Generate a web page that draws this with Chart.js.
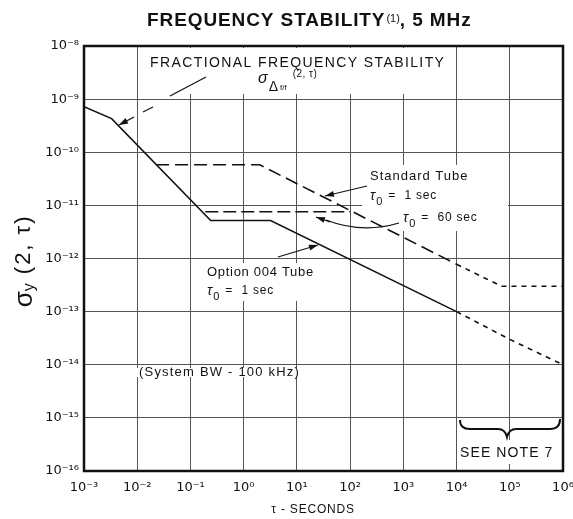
<!DOCTYPE html>
<html>
<head>
<meta charset="utf-8">
<script src="https://cdn.jsdelivr.net/npm/chart.js@4.4.0/dist/chart.umd.min.js"></script>
<style>
html, body { margin: 0; padding: 0; background: #fff; }
</style>
</head>
<body>
<canvas id="stabilityChart" width="573" height="519"></canvas>
<script>
// decades shown on each axis
const xExponents = [-3, -2, -1, 0, 1, 2, 3, 4, 5, 6];
const yExponents = [-16, -15, -14, -13, -12, -11, -10, -9, -8];

// Option 004 tube, tau0 = 1 sec (solid, dashed past 1e4 s)
const optionTau   = [1e-3, 3.3e-3, 0.24, 3.2, 1e4, 1e5, 1e6];
const optionSigma = [7.2e-10, 4.3e-10, 5.2e-12, 5.2e-12, 1e-13, 3e-14, 1e-14];

// Standard tube, tau0 = 1 sec
const standardTau   = [0.0226, 2, 1e4, 7e4, 1e6];
const standardSigma = [5.8e-11, 5.8e-11, 7.8e-13, 3e-13, 3e-13];

// Standard tube, tau0 = 60 sec
const sixtyTau   = [0.19, 100];
const sixtySigma = [7.6e-12, 7.6e-12];

const FONT = '"Liberation Sans", Arial, "DejaVu Sans", sans-serif';
const TICK_FONT = '"DejaVu Sans", sans-serif';
const SUP = { '-': '\u207B', '0': '\u2070', '1': '\u00B9', '2': '\u00B2', '3': '\u00B3',
              '4': '\u2074', '5': '\u2075', '6': '\u2076', '7': '\u2077', '8': '\u2078', '9': '\u2079' };

function tenTo(value) {
    const e = String(Math.round(Math.log10(value)));
    return '10' + e.split('').map(c => SUP[c]).join('');
}

function toPoints(xs, ys) {
    return xs.map((x, i) => ({ x: x, y: ys[i] }));
}

// white patches behind the label blocks (grid is broken there in the original)
const labelBoxes = [
    [145, 48, 308, 46],
    [362, 165, 146, 42],
    [376, 207, 130, 24],
    [197, 263, 140, 38],
    [128, 368, 191, 9],
    [460, 440, 100, 24]
];

function txt(ctx, s, x, y, size, style, ls) {
    ctx.font = (style || '') + ' ' + size + 'px ' + FONT;
    ctx.letterSpacing = (ls || 0) + 'px';
    ctx.fillText(s, x, y);
    return x + ctx.measureText(s).width;
}

function arrow(ctx, x1, y1, x2, y2) {
    const a = Math.atan2(y2 - y1, x2 - x1);
    ctx.beginPath();
    ctx.moveTo(x1, y1);
    ctx.lineTo(x2, y2);
    ctx.stroke();
    ctx.beginPath();
    ctx.moveTo(x2, y2);
    ctx.lineTo(x2 - 9 * Math.cos(a) + 3 * Math.sin(a), y2 - 9 * Math.sin(a) - 3 * Math.cos(a));
    ctx.lineTo(x2 - 9 * Math.cos(a) - 3 * Math.sin(a), y2 - 9 * Math.sin(a) + 3 * Math.cos(a));
    ctx.closePath();
    ctx.fill();
}

function tauZero(ctx, x, y, rest) {
    let nx = txt(ctx, '\u03C4', x, y, 14, 'italic');
    nx = txt(ctx, '0', nx + 1, y + 6, 11);
    txt(ctx, rest, nx + 6, y, 12, '', 0.8);
}

const decorPlugin = {
    id: 'decor',
    beforeDatasetsDraw(chart) {
        const ctx = chart.ctx;
        ctx.save();
        ctx.fillStyle = '#fff';
        labelBoxes.forEach(b => ctx.fillRect(b[0], b[1], b[2], b[3]));
        ctx.restore();
    },
    afterDraw(chart) {
        const ctx = chart.ctx;
        const area = chart.chartArea;
        ctx.save();
        ctx.fillStyle = '#111';
        ctx.strokeStyle = '#111';
        ctx.textBaseline = 'middle';
        ctx.textAlign = 'left';

        // frame
        ctx.lineWidth = 2.5;
        ctx.strokeRect(area.left, area.top, area.right - area.left, area.bottom - area.top);

        // title
        let x = txt(ctx, 'FREQUENCY STABILITY', 147, 21, 19, 'bold', 0.9);
        x = txt(ctx, '(1)', x + 1, 19, 11, '', 0);
        txt(ctx, ', 5 MHz', x, 21, 19, 'bold', 0.9);

        // top-left note
        txt(ctx, 'FRACTIONAL FREQUENCY STABILITY', 150, 63, 14, '', 1.4);
        x = txt(ctx, '\u03C3', 258, 79, 16, 'italic');
        x = txt(ctx, '\u0394', x + 1, 87, 14);
        x = txt(ctx, 'f/f', x + 2, 88, 8);
        txt(ctx, '(2, \u03C4)', x + 6, 74, 10, '', 0.5);
        ctx.lineWidth = 1.2;
        ctx.beginPath();
        ctx.moveTo(206, 77); ctx.lineTo(170, 96);
        ctx.moveTo(153, 107); ctx.lineTo(143, 112);
        ctx.stroke();
        arrow(ctx, 134, 117, 119, 125);

        // standard tube notes
        txt(ctx, 'Standard Tube', 370, 176, 13, '', 1);
        tauZero(ctx, 370, 196, '=  1 sec');
        arrow(ctx, 367, 186, 325, 196);
        tauZero(ctx, 403, 218, '=  60 sec');
        ctx.beginPath();
        ctx.moveTo(399, 223);
        ctx.quadraticCurveTo(362, 234, 326, 220);
        ctx.stroke();
        arrow(ctx, 330, 222, 316, 217);

        // option 004 notes
        txt(ctx, 'Option 004 Tube', 207, 272, 13, '', 0.7);
        tauZero(ctx, 207, 291, '=  1 sec');
        arrow(ctx, 278, 257, 318, 245);

        txt(ctx, '(System BW - 100 kHz)', 139, 372, 13, '', 1.2);

        // brace and note
        ctx.lineWidth = 2;
        ctx.beginPath();
        ctx.moveTo(460, 420);
        ctx.quadraticCurveTo(460, 429, 470, 429);
        ctx.lineTo(498, 429);
        ctx.quadraticCurveTo(505, 429, 507, 437);
        ctx.quadraticCurveTo(509, 429, 516, 429);
        ctx.lineTo(550, 429);
        ctx.quadraticCurveTo(560, 429, 560, 419);
        ctx.stroke();
        txt(ctx, 'SEE NOTE 7', 460, 453, 14, '', 1.1);

        // axis titles
        ctx.textAlign = 'center';
        txt(ctx, '\u03C4 - SECONDS', 313, 510, 12, '', 0.8);

        ctx.translate(25, 261);
        ctx.rotate(-Math.PI / 2);
        ctx.textAlign = 'left';
        ctx.font = 'italic 26px ' + FONT;
        ctx.letterSpacing = '0px';
        const w1 = ctx.measureText('\u03C3').width;
        ctx.font = '16px ' + FONT;
        const w2 = ctx.measureText('y').width;
        ctx.font = '22px ' + FONT;
        ctx.letterSpacing = '2px';
        const w3 = ctx.measureText('(2, \u03C4)').width;
        let sx = -(w1 + w2 + 9 + w3) / 2;
        sx = txt(ctx, '\u03C3', sx, 0, 26, '');
        sx = txt(ctx, 'y', sx, 5, 16, '');
        txt(ctx, '(2, \u03C4)', sx + 9, -1, 22, '', 2);
        ctx.restore();
    }
};

const lineStyle = {
    borderColor: '#111',
    borderWidth: 1.6,
    pointRadius: 0,
    tension: 0,
    fill: false
};

new Chart(document.getElementById('stabilityChart'), {
    type: 'line',
    data: {
        datasets: [
            Object.assign({ label: 'Option 004 Tube', data: toPoints(optionTau, optionSigma),
                borderDash: [], segment: { borderDash: ctx => ctx.p0.parsed.x >= 9999 ? [5, 5] : undefined } }, lineStyle),
            Object.assign({ label: 'Standard Tube', data: toPoints(standardTau, standardSigma),
                borderDash: [13, 6], segment: { borderDash: ctx => ctx.p0.parsed.x >= 9999 ? [5, 5] : [13, 6] } }, lineStyle),
            Object.assign({ label: 'tau0 = 60 sec', data: toPoints(sixtyTau, sixtySigma),
                borderDash: [13, 5] }, lineStyle)
        ]
    },
    options: {
        responsive: false,
        animation: false,
        layout: { padding: { top: 46, right: 10, bottom: 0, left: 0 } },
        plugins: {
            legend: { display: false },
            tooltip: { enabled: false }
        },
        scales: {
            x: {
                type: 'logarithmic',
                min: 1e-3,
                max: 1e6,
                afterBuildTicks: s => { s.ticks = xExponents.map(e => ({ value: Math.pow(10, e) })); },
                afterFit: s => { s.height = 48; s.paddingLeft = 0; s.paddingRight = 0; },
                ticks: {
                    callback: v => tenTo(v),
                    font: { family: TICK_FONT, size: 13 },
                    color: '#111',
                    padding: 9,
                    maxRotation: 0,
                    autoSkip: false
                },
                grid: { color: '#555', lineWidth: 1, drawTicks: false },
                border: { display: false }
            },
            y: {
                type: 'logarithmic',
                min: 1e-16,
                max: 1e-8,
                afterBuildTicks: s => { s.ticks = yExponents.map(e => ({ value: Math.pow(10, e) })); },
                afterFit: s => { s.width = 84; s.paddingTop = 0; s.paddingBottom = 0; },
                ticks: {
                    callback: v => tenTo(v),
                    font: { family: TICK_FONT, size: 13 },
                    color: '#111',
                    padding: 5,
                    autoSkip: false
                },
                grid: { color: '#555', lineWidth: 1, drawTicks: false },
                border: { display: false }
            }
        }
    },
    plugins: [decorPlugin]
});
</script>
</body>
</html>
